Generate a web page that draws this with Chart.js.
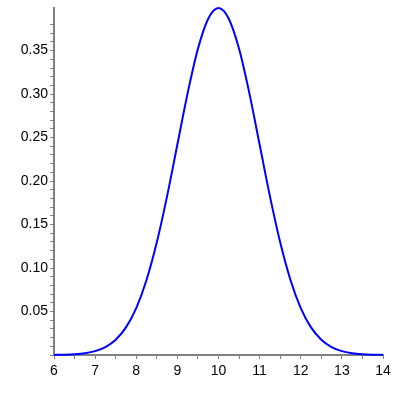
<!DOCTYPE html>
<html>
<head>
<meta charset="utf-8">
<script src="https://cdn.jsdelivr.net/npm/chart.js@4.4.0/dist/chart.umd.min.js"></script>
<style>
html,body{margin:0;padding:0;background:#fff;}
#wrap{width:400px;height:400px;}
</style>
</head>
<body>
<div id="wrap"><canvas id="c" width="400" height="400"></canvas></div>
<script>
const xValues = [6, 6.25, 6.5, 6.75, 7, 7.25, 7.5, 7.75, 8, 8.25, 8.5, 8.75, 9, 9.25, 9.5, 9.75, 10,
  10.25, 10.5, 10.75, 11, 11.25, 11.5, 11.75, 12, 12.25, 12.5, 12.75, 13, 13.25, 13.5, 13.75, 14];
const yValues = [0.00013, 0.00035, 0.00087, 0.00203, 0.00443, 0.00909, 0.01753, 0.03174, 0.05399,
  0.08628, 0.12952, 0.18265, 0.24197, 0.30114, 0.35207, 0.38667, 0.39894,
  0.38667, 0.35207, 0.30114, 0.24197, 0.18265, 0.12952, 0.08628, 0.05399,
  0.03174, 0.01753, 0.00909, 0.00443, 0.00203, 0.00087, 0.00035, 0.00013];
const xTickLabels = ['6', '7', '8', '9', '10', '11', '12', '13', '14'];
const yTickLabels = ['0.05', '0.10', '0.15', '0.20', '0.25', '0.30', '0.35'];

const points = xValues.map((x, i) => ({x: x, y: yValues[i]}));
const axisGray = '#808080';
const font = {family: 'Liberation Sans', size: 14};

new Chart(document.getElementById('c'), {
  type: 'line',
  data: {
    datasets: [{
      data: points,
      borderColor: '#0000ff',
      borderWidth: 2,
      pointRadius: 0,
      fill: false,
      cubicInterpolationMode: 'monotone',
      clip: false
    }]
  },
  options: {
    responsive: false,
    animation: false,
    devicePixelRatio: 1,
    layout: {padding: {top: 8, right: 17, left: 0, bottom: 0}},
    plugins: {legend: {display: false}, tooltip: {enabled: false}},
    scales: {
      x: {
        type: 'linear',
        min: 6, max: 14,
        afterFit: s => { s.height = 45; s.paddingLeft = 0; s.paddingRight = 0; },
        afterBuildTicks: s => { s.ticks = s.ticks.filter(t => Math.abs(t.value * 2 - Math.round(t.value * 2)) < 1e-6); },
        ticks: {
          stepSize: 0.5,
          autoSkip: false,
          maxRotation: 0,
          color: '#000',
          font: font,
          padding: 4,
          callback: v => {
            const lbl = String(v);
            return xTickLabels.includes(lbl) ? lbl : '';
          }
        },
        grid: {drawOnChartArea: false, tickLength: 4, color: axisGray, tickColor: axisGray, tickWidth: 1},
        border: {color: axisGray, width: 2}
      },
      y: {
        type: 'linear',
        min: 0, max: 0.399,
        afterFit: s => { s.width = 54; s.paddingTop = 0; s.paddingBottom = 0; },
        afterBuildTicks: s => { s.ticks = s.ticks.filter(t => Math.abs(t.value * 100 - Math.round(t.value * 100)) < 1e-6); },
        ticks: {
          stepSize: 0.01,
          autoSkip: false,
          color: '#000',
          font: font,
          padding: 2,
          callback: v => {
            const lbl = v.toFixed(2);
            return yTickLabels.includes(lbl) ? lbl : '';
          }
        },
        grid: {drawOnChartArea: false, tickLength: 4, color: axisGray, tickColor: axisGray, tickWidth: 1},
        border: {color: axisGray, width: 2}
      }
    }
  }
});
</script>
</body>
</html>
